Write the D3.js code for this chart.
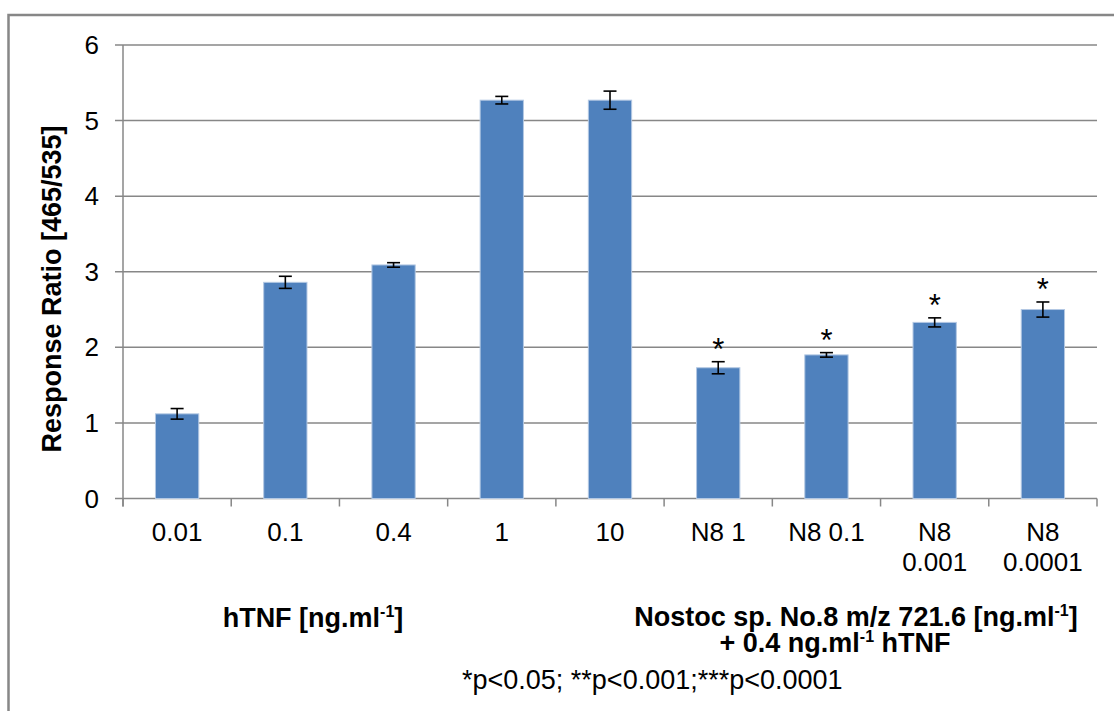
<!DOCTYPE html>
<html>
<head>
<meta charset="utf-8">
<script src="https://cdn.jsdelivr.net/npm/d3@7"></script>
<style>
  body { margin: 0; background: #fff; }
  svg text { font-family: "Liberation Sans", Arial, sans-serif; fill: #000; }
</style>
</head>
<body>
<div id="chart"></div>
<script>
// data
var categories = ["0.01", "0.1", "0.4", "1", "10", "N8 1", "N8 0.1", "N8 0.001", "N8 0.0001"];
var ratios = [1.12, 2.86, 3.09, 5.27, 5.27, 1.73, 1.90, 2.33, 2.50];
var errors = [0.07, 0.08, 0.03, 0.05, 0.12, 0.08, 0.03, 0.06, 0.10];
var stars = ["", "", "", "", "", "*", "*", "*", "*"];
var yTicks = [0, 1, 2, 3, 4, 5, 6];

var width = 1114, height = 711;
var plotLeft = 123, plotRight = 1097, plotTop = 45, plotBottom = 498.5;
var gridColor = "#878787";

var svg = d3.select("#chart")
  .append("svg")
    .attr("width", width)
    .attr("height", height);

// chart frame (runs off the right and bottom edge)
svg.append("rect")
  .attr("x", 8.5)
  .attr("y", 15)
  .attr("width", width + 20)
  .attr("height", height + 20)
  .attr("fill", "none")
  .attr("stroke", gridColor)
  .attr("stroke-width", 2.5);

var x = d3.scaleBand()
  .domain(categories)
  .range([plotLeft, plotRight])
  .paddingInner(0.6)
  .paddingOuter(0.3);

var y = d3.scaleLinear()
  .domain([0, 6])
  .range([plotBottom, plotTop]);

// gridlines
svg.append("g")
    .attr("class", "grid")
  .selectAll("line")
  .data(yTicks)
  .enter()
  .append("line")
    .attr("x1", plotLeft - 8)
    .attr("x2", plotRight)
    .attr("y1", function(d) { return y(d); })
    .attr("y2", function(d) { return y(d); })
    .attr("stroke", gridColor)
    .attr("stroke-width", 1.5);

// y axis line + labels
svg.append("line")
  .attr("x1", plotLeft).attr("x2", plotLeft)
  .attr("y1", y(6)).attr("y2", plotBottom + 8)
  .attr("stroke", gridColor)
  .attr("stroke-width", 1.5);

svg.append("g")
  .selectAll("text")
  .data(yTicks)
  .enter()
  .append("text")
    .attr("x", 99)
    .attr("y", function(d) { return y(d); })
    .attr("dy", "0.35em")
    .attr("text-anchor", "end")
    .style("font-size", "26px")
    .text(function(d) { return d; });

svg.append("text")
  .attr("transform", "translate(61,289) rotate(-90)")
  .attr("text-anchor", "middle")
  .style("font-size", "27px")
  .style("font-weight", "bold")
  .text("Response Ratio [465/535]");

// x axis ticks between categories
var boundaries = categories.map(function(c) { return x(c) - x.step() * x.paddingInner() / 2; });
boundaries[0] = plotLeft;
boundaries.push(plotRight);

svg.append("g")
  .selectAll("line")
  .data(boundaries)
  .enter()
  .append("line")
    .attr("x1", function(d) { return d; })
    .attr("x2", function(d) { return d; })
    .attr("y1", plotBottom)
    .attr("y2", plotBottom + 8)
    .attr("stroke", gridColor)
    .attr("stroke-width", 1.5);

// bars
svg.append("g")
    .attr("class", "bars")
  .selectAll("rect")
  .data(ratios)
  .enter()
  .append("rect")
    .attr("x", function(d, i) { return x(categories[i]); })
    .attr("y", function(d) { return y(d); })
    .attr("width", x.bandwidth())
    .attr("height", function(d) { return plotBottom - y(d); })
    .attr("fill", "#4f81bd")
    .attr("stroke", "#b3c8e3")
    .attr("stroke-width", 1);

// error bars
var err = svg.append("g")
    .attr("class", "errors")
  .selectAll("g")
  .data(ratios)
  .enter()
  .append("g")
    .attr("stroke", "#000")
    .attr("stroke-width", 1.6);

function cx(i) { return x(categories[i]) + x.bandwidth() / 2; }

err.append("line")
  .attr("x1", function(d, i) { return cx(i); })
  .attr("x2", function(d, i) { return cx(i); })
  .attr("y1", function(d, i) { return y(d + errors[i]); })
  .attr("y2", function(d, i) { return y(d - errors[i]); });

[1, -1].forEach(function(s) {
  err.append("line")
    .attr("x1", function(d, i) { return cx(i) - 6.5; })
    .attr("x2", function(d, i) { return cx(i) + 6.5; })
    .attr("y1", function(d, i) { return y(d + s * errors[i]); })
    .attr("y2", function(d, i) { return y(d + s * errors[i]); });
});

// significance stars (only where there is one)
var starIdx = d3.range(stars.length).filter(function(i) { return stars[i] != ""; });
svg.append("g")
  .selectAll("text")
  .data(starIdx)
  .enter()
  .append("text")
    .attr("x", function(i) { return cx(i); })
    .attr("y", function(i) { return y(ratios[i] + errors[i]) - 2; })
    .attr("text-anchor", "middle")
    .style("font-size", "31px")
    .text(function(i) { return stars[i]; });

// x tick labels, wrapped when wider than the slot
var xl = svg.append("g")
  .selectAll("text")
  .data(categories)
  .enter()
  .append("text")
    .attr("x", function(d) { return x(d) + x.bandwidth() / 2; })
    .attr("y", 541)
    .attr("text-anchor", "middle")
    .style("font-size", "26px")
    .text(function(d) { return d; });

xl.each(function(d) {
  var t = d3.select(this);
  if (this.getComputedTextLength() > x.step() * 0.9) {
    var words = d.split(" ");
    t.text(null);
    words.forEach(function(w, k) {
      t.append("tspan")
        .attr("x", t.attr("x"))
        .attr("dy", k == 0 ? 0 : 30)
        .text(w);
    });
  }
});

// group captions; objects in parts are superscripts
function caption(xPos, yPos, parts, bold, anchor) {
  var t = svg.append("text")
    .attr("x", xPos)
    .attr("y", yPos)
    .attr("text-anchor", anchor || "middle")
    .style("font-size", "27px")
    .style("font-weight", bold ? "bold" : "normal");
  var shift = 0;
  parts.forEach(function(p) {
    if (typeof p === "object") {
      t.append("tspan").attr("dy", -10).style("font-size", "16px").text(p.exp);
      shift = 10;
    } else {
      t.append("tspan").attr("dy", shift).text(p);
      shift = 0;
    }
  });
}

caption(313, 627, ["hTNF [ng.ml", {exp: "-1"}, "]"], true);
caption(856, 626, ["Nostoc sp. No.8 m/z 721.6 [ng.ml", {exp: "-1"}, "]"], true);
caption(835, 652, ["+ 0.4 ng.ml", {exp: "-1"}, " hTNF"], true);
caption(462, 689, ["*p<0.05; **p<0.001;***p<0.0001"], false, "start");
</script>
</body>
</html>
